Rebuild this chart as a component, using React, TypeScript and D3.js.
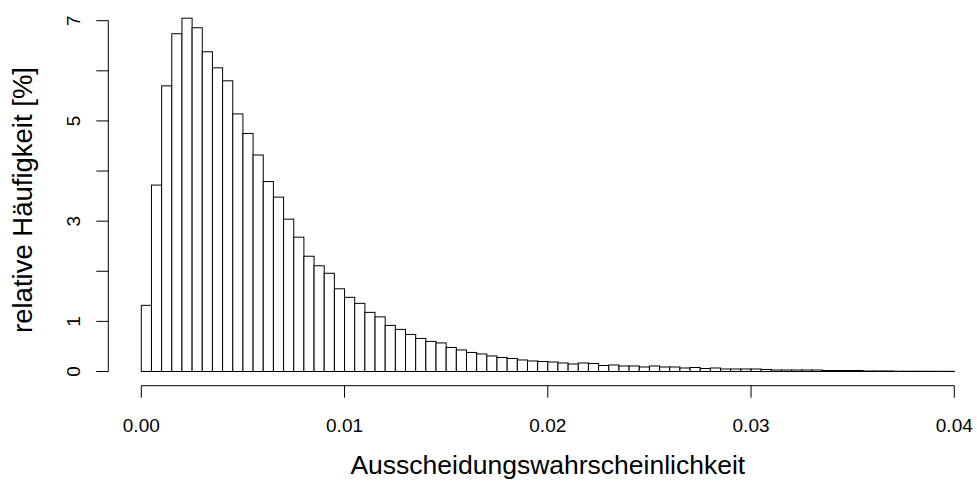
import React from "react";
import * as d3 from "d3";

const binWidth = 0.0005;
const binStart = 0;
const percentValues: number[] = [
  1.32, 3.72, 5.7, 6.74, 7.05, 6.86, 6.38, 6.06, 5.8, 5.14,
  4.75, 4.32, 3.79, 3.48, 3.04, 2.68, 2.3, 2.11, 1.96, 1.65,
  1.48, 1.36, 1.18, 1.09, 0.92, 0.84, 0.74, 0.66, 0.6, 0.57,
  0.48, 0.43, 0.38, 0.35, 0.31, 0.28, 0.26, 0.23, 0.21, 0.2,
  0.19, 0.17, 0.15, 0.17, 0.16, 0.12, 0.13, 0.11, 0.11, 0.09,
  0.11, 0.09, 0.09, 0.07, 0.08, 0.06, 0.07, 0.05, 0.05, 0.05,
  0.05, 0.04, 0.03, 0.03, 0.03, 0.03, 0.03, 0.02, 0.02, 0.02,
  0.02, 0.01, 0.01, 0.01, 0.005, 0.005, 0.005, 0.004, 0.003, 0.003,
];
const xTicks = [0, 0.01, 0.02, 0.03, 0.04];
const xTickLabels = ["0.00", "0.01", "0.02", "0.03", "0.04"];
const yTicks = [0, 1, 2, 3, 4, 5, 6, 7];
const yTickLabels = ["0", "1", "", "3", "", "5", "", "7"];
const xTitle = "Ausscheidungswahrscheinlichkeit";
const yTitle = "relative Häufigkeit [%]";

const W = 977;
const H = 482;
const FONT = "'Liberation Sans', Arial, Helvetica, sans-serif";

export default function App() {
  const x = d3.scaleLinear().domain([0, 0.04]).range([141.3, 954.3]);
  const y = d3.scaleLinear().domain([0, 7]).range([371.5, 20.7]);
  const axisY = 385.7;
  const axisX = 108.3;
  const tickLen = 12;

  return (
    <svg
      width={W}
      height={H}
      viewBox={`0 0 ${W} ${H}`}
      style={{ position: "fixed", left: 0, top: 0, background: "#fff" }}
      fontFamily={FONT}
    >
      <rect x={0} y={0} width={W} height={H} fill="#fff" />
      {percentValues.map((v, i) => {
        const x0 = x(binStart + i * binWidth);
        const x1 = x(binStart + (i + 1) * binWidth);
        return (
          <rect
            key={i}
            x={x0}
            y={y(v)}
            width={x1 - x0}
            height={y(0) - y(v)}
            fill="#fff"
            stroke="#000"
            strokeWidth={1}
          />
        );
      })}
      {/* x axis */}
      <line x1={x(0)} x2={x(0.04)} y1={axisY} y2={axisY} stroke="#000" strokeWidth={1} />
      {xTicks.map((t, i) => (
        <g key={i}>
          <line x1={x(t)} x2={x(t)} y1={axisY} y2={axisY + tickLen} stroke="#000" strokeWidth={1} />
          <text x={x(t)} y={432} textAnchor="middle" fontSize={19} fill="#000">
            {xTickLabels[i]}
          </text>
        </g>
      ))}
      {/* y axis */}
      <line x1={axisX} x2={axisX} y1={y(0)} y2={y(7)} stroke="#000" strokeWidth={1} />
      {yTicks.map((t, i) => (
        <g key={i}>
          <line x1={axisX - tickLen} x2={axisX} y1={y(t)} y2={y(t)} stroke="#000" strokeWidth={1} />
          {yTickLabels[i] && (
            <text
              transform={`translate(80,${y(t)}) rotate(-90)`}
              textAnchor="middle"
              fontSize={19}
              fill="#000"
            >
              {yTickLabels[i]}
            </text>
          )}
        </g>
      ))}
      <text x={547.8} y={474} textAnchor="middle" fontSize={26.5} fill="#000">
        {xTitle}
      </text>
      <text
        transform={`translate(32,200) rotate(-90)`}
        textAnchor="middle"
        fontSize={27.5}
        fill="#000"
      >
        {yTitle}
      </text>
    </svg>
  );
}
